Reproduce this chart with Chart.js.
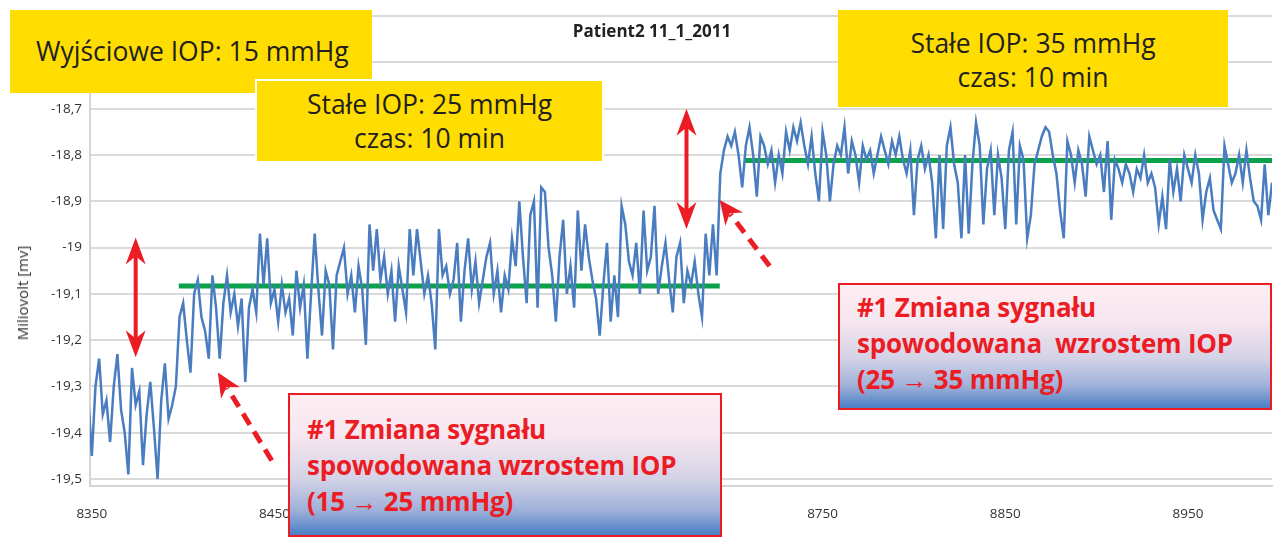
<!DOCTYPE html>
<html>
<head>
<meta charset="utf-8">
<script src="https://cdn.jsdelivr.net/npm/chart.js@4.4.1/dist/chart.umd.min.js"></script>
<style>
  body { margin: 0; background: #fff; }
  #wrap { position: relative; width: 1283px; height: 547px; overflow: hidden; font-family: 'Open Sans', sans-serif; }
  canvas { position: absolute; left: 0; top: 0; }
  .note { position: absolute; box-sizing: border-box; }
  .yellow { background: #ffdd00; color: #231f20; font-size: 26.5px; line-height: 34px; text-align: center; }
  .red { border: 2px solid #ec1c24; color: #ec1c24; font-weight: bold; font-size: 26px; line-height: 36px; padding-left: 17px; letter-spacing: -0.2px;
         background: linear-gradient(to bottom, #fdeef3 0%, #f6e6ef 30%, #d3d2e6 60%, #9fb1d9 82%, #4a7fc6 100%); white-space: pre; }
  #title { position: absolute; left: 0; width: 1304px; top: 19px; text-align: center; font-weight: bold; font-size: 17px; color: #222; }
  #ytitle { position: absolute; left: 22px; top: 293px; transform: translate(-50%, -50%) rotate(-90deg); font-size: 15px; color: #333; white-space: nowrap; }
</style>
</head>
<body>
<div id="wrap">
  <canvas id="signal" width="1283" height="547"></canvas>
  <div id="title">Patient2 11_1_2011</div>
  <div id="ytitle">Miliovolt [mv]</div>
  <div class="note yellow" style="left:10px; top:10px; width:362px; height:83px; line-height:83px; text-align:left; padding-left:26px;">Wyjściowe IOP: 15 mmHg</div>
  <div class="note yellow" style="left:255px; top:79px; width:349px; height:84px; border:2px solid #fff; padding-top:6px;">Stałe IOP: 25 mmHg<br>czas: 10 min</div>
  <div class="note yellow" style="left:838px; top:10px; width:390px; height:97px; padding-top:16px;">Stałe IOP: 35 mmHg<br>czas: 10 min</div>
  <div class="note red" style="left:288px; top:393px; width:434px; height:144px; padding-top:16px;">#1 Zmiana sygnału
spowodowana wzrostem IOP
(15 → 25 mmHg)</div>
  <div class="note red" style="left:838px; top:283px; width:434px; height:127px; padding-top:4px;">#1 Zmiana sygnału
spowodowana  wzrostem IOP
(25 → 35 mmHg)</div>
</div>
<script>
// sampling of the trace (time axis)
const sampleStart = 8348;
const sampleStep = 2;

// signal, mV
const signalMv = [
  // baseline 15 mmHg
  -19.32, -19.45, -19.30, -19.24, -19.36, -19.33, -19.42, -19.30, -19.23, -19.35,
  -19.40, -19.49, -19.26, -19.34, -19.31, -19.47, -19.36, -19.29, -19.39, -19.50,
  -19.33, -19.25, -19.37, -19.34, -19.30, -19.15,
  // 25 mmHg
  -19.12, -19.20, -19.27, -19.10, -19.07, -19.15, -19.18, -19.24, -19.06, -19.13,
  -19.24, -19.12, -19.06, -19.14, -19.10, -19.17, -19.11, -19.29, -19.13, -19.09,
  -19.14, -18.97, -19.08, -18.98, -19.12, -19.09, -19.16, -19.08, -19.14, -19.11,
  -19.19, -19.05, -19.13,
  -19.08, -19.24, -19.10, -18.97, -19.09, -19.19, -19.05, -19.08, -19.22, -19.06,
  -19.03, -19.00, -19.10, -19.06, -19.14, -19.04, -19.09, -19.21, -18.95, -19.05,
  -18.96, -19.07, -19.02, -19.10, -19.05, -19.16, -19.04, -19.09, -19.14, -18.96,
  -19.06, -18.96, -19.03, -19.10, -19.06, -19.12, -19.22, -18.96, -19.06, -19.04,
  -19.10, -19.07, -18.99, -19.16, -19.05, -18.98, -19.09, -19.03, -19.12, -19.07,
  -19.02, -18.99, -19.10, -19.05, -19.14, -19.06, -19.09,
  -18.98, -19.04, -18.90, -19.02, -19.12, -18.93, -18.90, -19.13, -18.87, -18.88,
  -19.00, -19.06, -19.16, -19.02, -18.94, -19.10, -19.04, -19.13, -18.92, -19.05,
  -18.95, -19.02, -19.07, -19.11, -19.19, -19.08, -18.99, -19.16, -19.06, -19.15,
  -18.91, -18.95, -19.03, -19.06, -18.99, -19.10, -18.92, -19.05, -19.02, -18.91,
  -19.10, -19.04, -18.99, -19.07, -19.14, -19.02, -18.99, -19.12, -19.05, -19.08,
  -19.03, -19.10, -19.15, -18.97, -19.06, -18.95, -19.06, -18.84,
  // 35 mmHg
  -18.79, -18.76, -18.78, -18.75, -18.80, -18.87, -18.78, -18.74, -18.80, -18.89,
  -18.76, -18.78, -18.82, -18.79, -18.86, -18.80, -18.84, -18.75, -18.79, -18.74,
  -18.77, -18.73, -18.78, -18.82, -18.76, -18.84, -18.90, -18.75, -18.80, -18.90,
  -18.82, -18.78, -18.80, -18.74, -18.84, -18.77, -18.80, -18.86, -18.78, -18.81,
  -18.79, -18.84, -18.80, -18.76, -18.79, -18.82, -18.77, -18.80, -18.76, -18.81,
  -18.84, -18.79, -18.93, -18.81, -18.78, -18.83, -18.80, -18.86, -18.98, -18.80,
  -18.96, -18.78, -18.74, -18.82, -18.86, -18.98, -18.80, -18.97, -18.82, -18.73,
  -18.78, -18.95, -18.83, -18.79, -18.93, -18.80, -18.85, -18.96, -18.79, -18.75,
  -18.95, -18.78, -18.81, -18.98, -18.93, -18.82, -18.79, -18.76, -18.74, -18.75,
  -18.80, -18.84, -18.92, -18.98, -18.77, -18.80, -18.86, -18.79, -18.82, -18.89,
  -18.76, -18.79, -18.82, -18.80, -18.88, -18.77, -18.94, -18.81, -18.83, -18.86,
  -18.82, -18.84, -18.88, -18.83, -18.85, -18.80, -18.86, -18.84, -18.87, -18.95,
  -18.89, -18.96, -18.81, -18.88, -18.83, -18.90, -18.80, -18.83, -18.86, -18.80,
  -18.84, -18.94, -18.88, -18.85, -18.92, -18.94, -18.96, -18.78, -18.82, -18.86,
  -18.84, -18.80, -18.86, -18.79, -18.85, -18.90, -18.91, -18.94, -18.82, -18.93,
  -18.86
];

// mean levels (green)
const meanLevel25 = { from: 8397.6, to: 8693.7, mv: -19.083 };
const meanLevel35 = { from: 8707.4, to: 8996, mv: -18.812 };

// axis ticks
const xTicks = [8350, 8450, 8550, 8650, 8750, 8850, 8950];
const yTicks = [-19.5, -19.4, -19.3, -19.2, -19.1, -19.0, -18.9, -18.8, -18.7, -18.6, -18.5];
const yLabelled = [-19.5, -19.4, -19.3, -19.2, -19.1, -19.0, -18.9, -18.8, -18.7];

// arrows, in data units: [x1, y1, x2, y2]
const doubleArrows = [[8374, -18.978, 8374, -19.237], [8675.5, -18.70, 8675.5, -18.96]];
const dashedArrows = [[8448.5, -19.46, 8419, -19.27], [8721, -19.04, 8693.7, -18.897]];

let trace = [];
for (let i = 0; i < signalMv.length; i++) {
    trace.push({ x: sampleStart + i * sampleStep, y: signalMv[i] });
}

function head(ctx, x1, y1, x2, y2, len, half) {
    let a = Math.atan2(y2 - y1, x2 - x1);
    ctx.beginPath();
    ctx.moveTo(x2, y2);
    ctx.lineTo(x2 - len * Math.cos(a) + half * Math.sin(a), y2 - len * Math.sin(a) - half * Math.cos(a));
    ctx.lineTo(x2 - len * 0.7 * Math.cos(a), y2 - len * 0.7 * Math.sin(a));
    ctx.lineTo(x2 - len * Math.cos(a) - half * Math.sin(a), y2 - len * Math.sin(a) + half * Math.cos(a));
    ctx.closePath();
    ctx.fill();
}

const arrowPlugin = {
    id: 'arrows',
    afterDatasetsDraw(chart) {
        const ctx = chart.ctx, xs = chart.scales.x, ys = chart.scales.y;
        ctx.save();
        ctx.strokeStyle = '#ec1c24';
        ctx.fillStyle = '#ec1c24';
        for (let a of doubleArrows) {
            let x1 = xs.getPixelForValue(a[0]), y1 = ys.getPixelForValue(a[1]);
            let x2 = xs.getPixelForValue(a[2]), y2 = ys.getPixelForValue(a[3]);
            ctx.lineWidth = 4;
            ctx.beginPath();
            ctx.moveTo(x1, y1 + 15);
            ctx.lineTo(x2, y2 - 15);
            ctx.stroke();
            head(ctx, x2, y1 + 40, x1, y1, 27, 10);
            head(ctx, x1, y2 - 40, x2, y2, 27, 10);
        }
        for (let a of dashedArrows) {
            let x1 = xs.getPixelForValue(a[0]), y1 = ys.getPixelForValue(a[1]);
            let x2 = xs.getPixelForValue(a[2]), y2 = ys.getPixelForValue(a[3]);
            let ang = Math.atan2(y2 - y1, x2 - x1);
            ctx.lineWidth = 5;
            ctx.setLineDash([13, 8]);
            ctx.beginPath();
            ctx.moveTo(x1, y1);
            ctx.lineTo(x2 - 18 * Math.cos(ang), y2 - 18 * Math.sin(ang));
            ctx.stroke();
            ctx.setLineDash([]);
            head(ctx, x1, y1, x2, y2, 24, 11);
        }
        ctx.restore();
    }
};

const ctx = document.getElementById('signal').getContext('2d');
const signalChart = new Chart(ctx, {
    type: 'scatter',
    data: {
        datasets: [
            { data: trace, showLine: true, borderColor: '#4a7dc0', borderWidth: 2.5, pointRadius: 0, tension: 0 },
            { data: [{ x: meanLevel25.from, y: meanLevel25.mv }, { x: meanLevel25.to, y: meanLevel25.mv }],
              showLine: true, borderColor: '#0ba14b', borderWidth: 5, pointRadius: 0 },
            { data: [{ x: meanLevel35.from, y: meanLevel35.mv }, { x: meanLevel35.to, y: meanLevel35.mv }],
              showLine: true, borderColor: '#0ba14b', borderWidth: 5, pointRadius: 0 }
        ]
    },
    options: {
        responsive: false,
        animation: false,
        layout: { padding: { left: 0, right: 11, top: 12, bottom: 0 } },
        plugins: { legend: { display: false }, tooltip: { enabled: false } },
        scales: {
            x: {
                type: 'linear', min: 8349, max: 8996,
                afterBuildTicks: s => { s.ticks = xTicks.map(v => ({ value: v })); },
                afterFit: s => { s.height = 61; },
                grid: { display: false },
                border: { color: '#d4d4d4', width: 2 },
                ticks: { padding: 12, color: '#333', font: { family: 'Open Sans', size: 13.5 }, maxRotation: 0,
                         callback: v => String(v) }
            },
            y: {
                min: -19.515, max: -18.5,
                afterBuildTicks: s => { s.ticks = yTicks.map(v => ({ value: v })); },
                afterFit: s => { s.width = 90; },
                grid: { color: '#dadada', lineWidth: 2, drawTicks: false },
                border: { color: '#d4d4d4', width: 2 },
                ticks: { padding: 8, color: '#333', font: { family: 'Open Sans', size: 13.5 },
                         callback: v => yLabelled.some(t => Math.abs(t - v) < 1e-6) ? (Math.round(v * 10) / 10).toString().replace('.', ',') : '' }
            }
        }
    },
    plugins: [arrowPlugin]
});
</script>
</body>
</html>
